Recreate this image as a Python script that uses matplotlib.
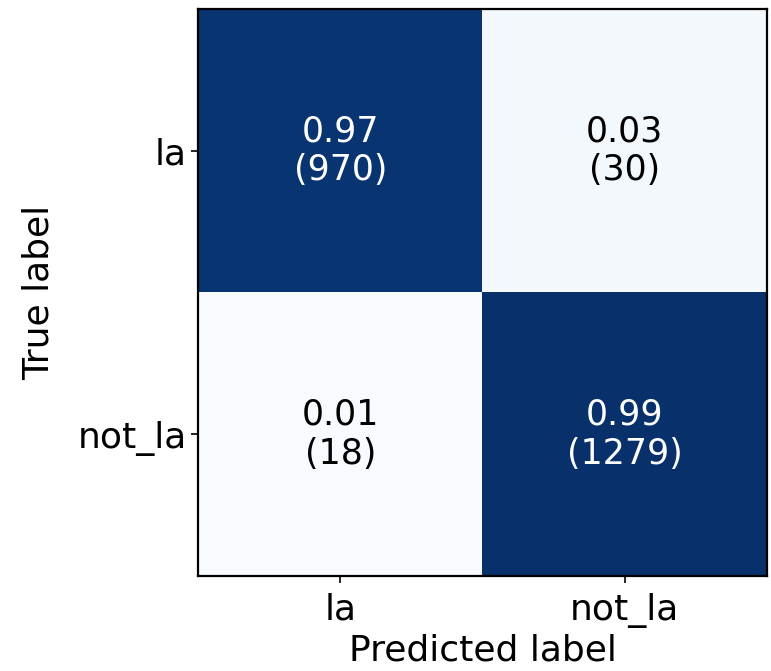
"""Normalised confusion matrix for the la / not_la classifier."""

import matplotlib

matplotlib.use("Agg")

import matplotlib.pyplot as plt
import numpy as np

CLASSES = ["la", "not_la"]
# raw counts, rows = true label, columns = predicted label
COUNTS = np.array([
    [970, 30],
    [18, 1279],
])

LABEL_SIZE = 26
CELL_SIZE = 25

cm_norm = COUNTS / COUNTS.sum(axis=1, keepdims=True)

fig = plt.figure(figsize=(7.71, 6.71), dpi=100)
ax = fig.add_axes([198 / 771, 95 / 671, 569 / 771, 567 / 671])

ax.imshow(cm_norm, interpolation="nearest", cmap=plt.cm.Blues, aspect="auto")

ticks = np.arange(len(CLASSES))
ax.set_xticks(ticks)
ax.set_yticks(ticks)
ax.set_xticklabels(CLASSES, fontsize=LABEL_SIZE)
ax.set_yticklabels(CLASSES, fontsize=LABEL_SIZE)
ax.tick_params(length=5, width=1.2)
ax.tick_params(axis="x", pad=7)
ax.tick_params(axis="y", pad=3)

thresh = cm_norm.max() / 2.0
for i in range(cm_norm.shape[0]):
    for j in range(cm_norm.shape[1]):
        ax.text(
            j,
            i,
            f"{cm_norm[i, j]:.2f}\n({COUNTS[i, j]})",
            ha="center",
            va="center",
            fontsize=CELL_SIZE,
            linespacing=1.2,
            color="white" if cm_norm[i, j] > thresh else "black",
        )

ax.set_ylabel("True label", fontsize=LABEL_SIZE, labelpad=16)
ax.set_xlabel("Predicted label", fontsize=LABEL_SIZE, labelpad=4)
for spine in ax.spines.values():
    spine.set_linewidth(1.6)

fig.savefig("out.png", dpi=100)
